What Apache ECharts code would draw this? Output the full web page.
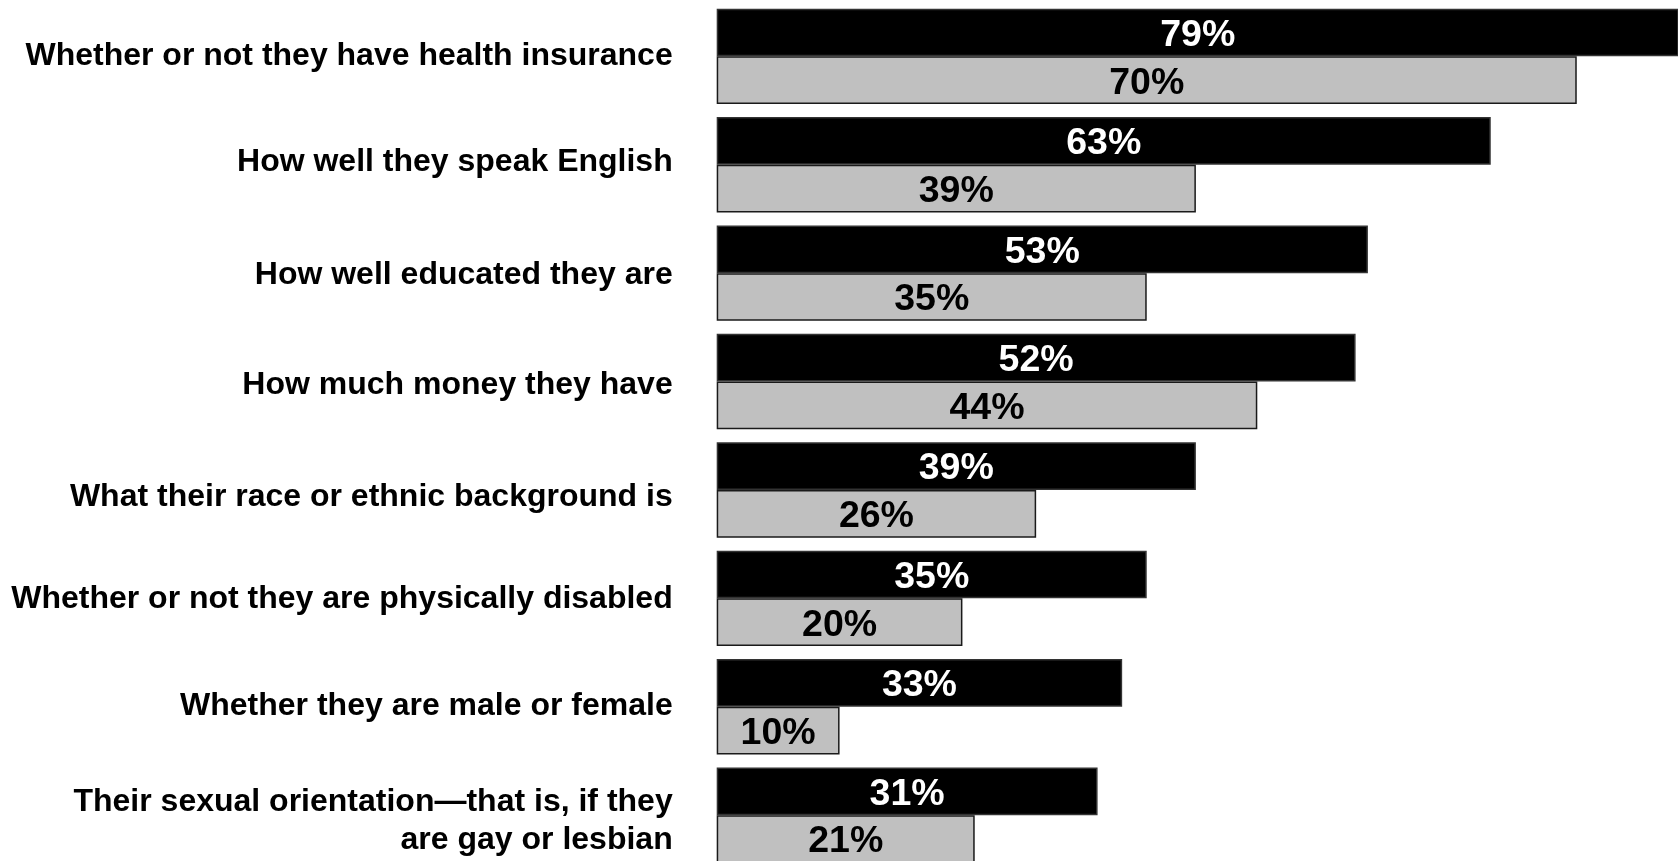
<!DOCTYPE html>
<html>
<head>
<meta charset="utf-8">
<title>Bar chart</title>
<script src="https://cdn.jsdelivr.net/npm/echarts@6/dist/echarts.min.js"></script>
<style>
  html, body { margin: 0; padding: 0; background: #ffffff; }
  #chart { width: 1678px; height: 861px; }
</style>
</head>
<body>
<div id="chart"></div>
<script>
// Categories, top to bottom
const categories = [
  'Whether or not they have health insurance',
  'How well they speak English',
  'How well educated they are',
  'How much money they have',
  'What their race or ethnic background is',
  'Whether or not they are physically disabled',
  'Whether they are male or female',
  'Their sexual orientation\u2014that is, if they\nare gay or lesbian'
];

// Percentages for the dark (upper) and light (lower) bar in each group
const darkValues = [79, 63, 53, 52, 39, 35, 33, 31];
const lightValues = [70, 39, 35, 44, 26, 20, 10, 21];

// Small vertical nudges (px, positive = down) for the category text
const labelNudge = [0, -3, 2, 4, 7, 1, -1, 6];

const FONT = '"Liberation Sans", Arial, Helvetica, sans-serif';
const LABEL_FONT = { color: '#000000', fontFamily: FONT, fontWeight: 'bold', fontSize: 32, lineHeight: 38 };

const chart = echarts.init(document.getElementById('chart'), null, { renderer: 'canvas' });

const barLabel = (color) => ({
  show: true,
  position: 'inside',
  offset: [0, 3],
  formatter: '{c}%',
  color: color,
  fontFamily: FONT,
  fontWeight: 'bold',
  fontSize: 37.5
});

// One rich style per category; its padding moves the text within the fixed line height
const rich = {};
labelNudge.forEach((d, i) => {
  rich['n' + i] = Object.assign({}, LABEL_FONT, {
    padding: d >= 0 ? [2 * d, 0, 0, 0] : [0, 0, -2 * d, 0]
  });
});

chart.setOption({
  backgroundColor: '#ffffff',
  animation: false,
  grid: {
    left: 716.7,
    top: 2.15,
    width: 961.3,
    height: 867.2,
    containLabel: false,
    outerBoundsMode: 'none'
  },
  xAxis: {
    type: 'value',
    min: 0,
    max: 78.24,
    show: false
  },
  yAxis: {
    type: 'category',
    data: categories,
    inverse: true,
    axisLine: { show: false },
    axisTick: { show: false },
    splitLine: { show: false },
    axisLabel: Object.assign({
      margin: 44,
      align: 'right',
      formatter: (value, index) =>
        value.split('\n').map((line) => '{n' + index + '|' + line + '}').join('\n'),
      rich: rich
    }, LABEL_FONT)
  },
  series: [
    {
      name: 'Dark',
      type: 'bar',
      data: darkValues,
      barWidth: 47.7,
      barGap: '0%',
      clip: true,
      itemStyle: { color: '#000000', borderColor: '#333333', borderWidth: 1.5 },
      label: barLabel('#ffffff')
    },
    {
      name: 'Light',
      type: 'bar',
      data: lightValues,
      barWidth: 47.7,
      barGap: '0%',
      clip: true,
      itemStyle: { color: '#c0c0c0', borderColor: '#1a1a1a', borderWidth: 1.5 },
      label: barLabel('#000000')
    }
  ]
});
</script>
</body>
</html>
